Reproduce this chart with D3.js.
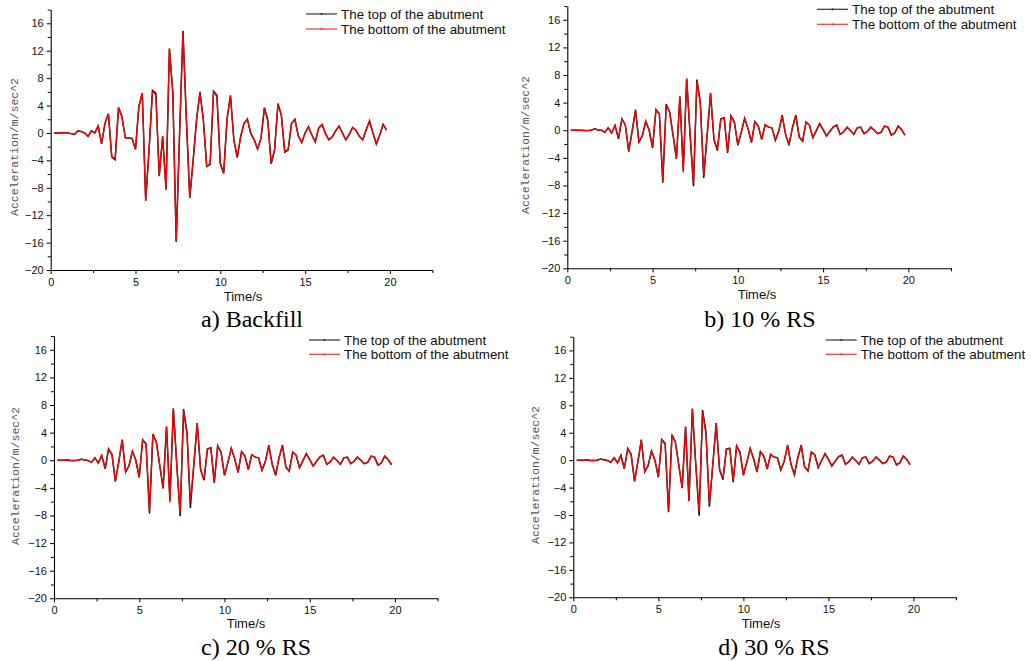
<!DOCTYPE html>
<html><head><meta charset="utf-8">
<script src="https://cdn.jsdelivr.net/npm/d3@7"></script>
<style>body{margin:0;background:#fff} svg{display:block}</style>
</head><body>
<svg id="chart" width="1031" height="661"></svg>
<script>
// ---------- data ----------
const time = [0.2,0.4,0.6,0.8,1.0,1.2,1.4,1.6,1.8,2.0,
  2.2,2.4,2.6,2.8,3.0,3.2,3.4,3.6,3.8,4.0,
  4.2,4.4,4.6,4.8,5.0,5.2,5.4,5.6,5.8,6.0,
  6.2,6.4,6.6,6.8,7.0,7.2,7.4,7.6,7.8,8.0,
  8.2,8.4,8.6,8.8,9.0,9.2,9.4,9.6,9.8,10.0,
  10.2,10.4,10.6,10.8,11.0,11.2,11.4,11.6,11.8,12.0,
  12.2,12.4,12.6,12.8,13.0,13.2,13.4,13.6,13.8,14.0,
  14.2,14.4,14.6,14.8,15.0,15.2,15.4,15.6,15.8,16.0,
  16.2,16.4,16.6,16.8,17.0,17.2,17.4,17.6,17.8,18.0,
  18.2,18.4,18.6,18.8,19.0,19.2,19.4,19.6,19.8];

const xTicks = [0,5,10,15,20];
const xMinorTicks = [2.5,7.5,12.5,17.5,22.5];
const yTicks = [-20,-16,-12,-8,-4,0,4,8,12,16];
const yMinorTicks = [-18,-14,-10,-6,-2,2,6,10,14,18];
const seriesNames = ["The top of the abutment","The bottom of the abutment"];
const captions = ["a) Backfill","b) 10 % RS","c) 20 % RS","d) 30 % RS"];
const xLabel = "Time/s";
const yLabel = "Acceleration/m/sec^2";

// a) Backfill
const topA = [0,0,0,0.05,0,-0.1,-0.2,0.3,0.2,0,
  -0.5,0.3,0,1.0,-1.6,1.4,2.8,-3.5,-3.9,3.7,
  2.4,-0.7,-0.75,-0.8,-2.4,3.9,5.8,-9.9,-2.5,6.2,
  5.8,-6.3,-0.5,-8.3,12.3,5.8,-15.9,0,14.9,2,
  -9.5,-4,1.9,6.0,1.9,-4.9,-4.6,6.1,5.5,-4.5,
  -5.9,2.1,5.5,-1.0,-3.6,-0.55,1.4,2.0,-0.1,-1.0,
  -2.35,-0.8,3.7,1.9,-4.5,-2.5,4.3,2.6,-2.8,-2.5,
  1.4,2.0,-0.45,-1.4,0,0.9,-0.3,-1.3,0.7,1.25,
  -0.1,-1.0,-0.55,0.3,1.0,0,-1.0,-0.2,0.8,0.4,
  -0.5,-1.0,0.45,1.75,0,-1.6,-0.3,1.25,0.4];
const bottomA = [0,0,0,0.05,0,-0.1,-0.2,0.3,0.2,0,
  -0.5,0.3,0,1.0,-1.6,1.4,2.8,-3.4,-3.8,3.7,
  2.3,-0.7,-0.75,-0.8,-2.4,3.9,5.8,-9.8,-2.5,6.0,
  5.6,-6.2,-0.5,-8.2,12.3,6.0,-15.8,0,14.8,2,
  -9.4,-4,1.9,5.9,1.9,-4.9,-4.5,6.0,5.3,-4.4,
  -5.8,2.1,5.4,-1.0,-3.5,-0.55,1.4,1.9,-0.1,-1.0,
  -2.3,-0.8,3.6,1.7,-4.4,-2.4,4.2,2.5,-2.7,-2.4,
  1.4,1.9,-0.45,-1.4,0,0.9,-0.3,-1.3,0.7,1.2,
  -0.1,-1.0,-0.55,0.3,1.0,0,-1.0,-0.2,0.8,0.4,
  -0.5,-1.0,0.45,1.7,0,-1.6,-0.3,1.2,0.4];

// b) 10 % RS
const topB = [0,0,0,0,-0.05,-0.05,0,0.2,0.05,0,
  -0.3,0.35,-0.4,0.7,-1.25,1.65,0.8,-3.1,-0.15,3.0,
  -1.7,-0.8,1.3,0,-2.55,3.0,2.4,-7.6,3.8,2.65,
  -0.7,-4.15,4.9,-5.8,7.45,-0.6,-8.1,7.35,4.05,-6.9,
  -0.7,5.4,-1.35,-2.95,1.65,1.8,-3.3,2.1,1.15,-2.2,
  -0.3,1.75,0.2,-1.8,1.25,0.6,-1.35,0.8,0.45,0.35,
  -1.45,-0.15,2.2,-0.6,-2.15,0.35,2.2,-1.0,-1.6,1.2,
  0.75,-1.1,-0.05,0.95,0.1,-0.85,-0.15,0.5,0.75,-0.6,
  -0.25,0.45,-0.05,-0.6,0.35,0.45,-0.5,-0.15,0.45,0,
  -0.5,-0.3,0.6,0.45,-0.7,-0.4,0.6,0.1,-0.7];
const bottomB = [0,0,0,0,-0.05,-0.05,0,0.2,0.05,0,
  -0.3,0.35,-0.4,0.7,-1.2,1.6,0.8,-3.0,-0.15,2.9,
  -1.65,-0.8,1.3,0,-2.45,2.9,2.3,-7.3,3.7,2.6,
  -0.6,-4.0,4.9,-6.1,7.5,-0.6,-7.6,7.1,3.8,-6.5,
  -0.7,5.3,-1.3,-2.75,1.6,1.75,-3.1,2.0,1.1,-2.1,
  -0.3,1.7,0.2,-1.7,1.2,0.6,-1.3,0.8,0.45,0.35,
  -1.4,-0.15,2.1,-0.6,-2.0,0.35,2.1,-0.95,-1.5,1.15,
  0.75,-1.05,-0.05,0.9,0.1,-0.8,-0.15,0.5,0.7,-0.6,
  -0.25,0.45,-0.05,-0.55,0.35,0.45,-0.5,-0.15,0.45,0,
  -0.5,-0.3,0.6,0.45,-0.65,-0.4,0.6,0.1,-0.7];

// c) 20 % RS
const topC = [0,0,0,0.05,-0.05,-0.05,0,0.15,0.05,-0.05,
  -0.3,0.35,-0.4,0.7,-1.25,1.65,0.85,-3.1,-0.2,3.0,
  -1.7,-0.8,1.3,0,-2.5,3.0,2.4,-7.7,3.8,2.7,
  -0.7,-4.1,4.9,-5.8,7.5,-0.6,-8.1,7.4,4.1,-6.9,
  -0.7,5.4,-1.4,-2.9,1.65,1.8,-3.3,2.1,1.15,-2.2,
  -0.3,1.75,0.2,-1.8,1.25,0.6,-1.35,0.8,0.45,0.35,
  -1.45,-0.15,2.2,-0.6,-2.2,0.35,2.2,-1.0,-1.6,1.2,
  0.75,-1.1,-0.05,0.95,0.1,-0.85,-0.15,0.5,0.75,-0.6,
  -0.25,0.45,-0.05,-0.6,0.35,0.45,-0.5,-0.15,0.45,0,
  -0.5,-0.3,0.6,0.45,-0.7,-0.4,0.6,0.1,-0.65];
const bottomC = [0,0,0,0.05,-0.05,-0.05,0,0.15,0.05,-0.05,
  -0.3,0.35,-0.4,0.7,-1.2,1.6,0.8,-3.0,-0.2,2.9,
  -1.65,-0.8,1.3,0,-2.4,2.9,2.3,-7.3,3.7,2.6,
  -0.6,-4.0,4.9,-6.1,7.5,-0.6,-7.6,7.1,3.8,-6.1,
  -0.7,5.3,-1.3,-2.7,1.6,1.75,-3.1,2.0,1.1,-2.1,
  -0.3,1.7,0.2,-1.7,1.2,0.6,-1.3,0.8,0.45,0.35,
  -1.4,-0.15,2.1,-0.6,-2.0,0.35,2.1,-0.95,-1.5,1.15,
  0.75,-1.05,-0.05,0.9,0.1,-0.8,-0.15,0.5,0.7,-0.6,
  -0.25,0.45,-0.05,-0.55,0.35,0.45,-0.5,-0.15,0.45,0,
  -0.5,-0.3,0.6,0.45,-0.65,-0.4,0.6,0.1,-0.65];

// d) 30 % RS
const topD = [0,0,0,0.05,-0.05,-0.05,0,0.15,0.05,-0.05,
  -0.3,0.35,-0.4,0.7,-1.25,1.7,0.85,-3.1,-0.2,3.0,
  -1.7,-0.8,1.35,0,-2.5,3.0,2.45,-7.6,3.7,2.7,
  -0.7,-4.1,4.9,-5.9,7.5,-0.6,-8.1,7.3,4.1,-6.8,
  -0.7,5.4,-1.4,-2.85,1.6,1.75,-3.2,2.1,1.2,-2.2,
  -0.3,1.7,0.2,-1.75,1.25,0.6,-1.3,0.85,0.45,0.35,
  -1.45,-0.15,2.2,-0.6,-2.15,0.35,2.2,-1.0,-1.6,1.2,
  0.75,-1.1,-0.05,0.95,0.1,-0.85,-0.15,0.5,0.75,-0.6,
  -0.25,0.45,-0.05,-0.6,0.35,0.45,-0.5,-0.15,0.45,0,
  -0.5,-0.3,0.6,0.45,-0.7,-0.4,0.6,0.1,-0.65];
const bottomD = [0,0,0,0.05,-0.05,-0.05,0,0.15,0.05,-0.05,
  -0.3,0.35,-0.4,0.7,-1.2,1.6,0.8,-3.0,-0.2,2.9,
  -1.65,-0.8,1.3,0,-2.4,2.9,2.3,-7.3,3.6,2.6,
  -0.6,-4.0,4.8,-6.0,7.5,-0.6,-7.6,7.0,3.8,-6.3,
  -0.7,5.3,-1.3,-2.7,1.55,1.7,-3.0,2.0,1.1,-2.1,
  -0.3,1.65,0.2,-1.7,1.2,0.6,-1.25,0.8,0.45,0.35,
  -1.4,-0.15,2.1,-0.6,-2.0,0.35,2.1,-0.95,-1.5,1.15,
  0.75,-1.05,-0.05,0.9,0.1,-0.8,-0.15,0.5,0.7,-0.6,
  -0.25,0.45,-0.05,-0.55,0.35,0.45,-0.5,-0.15,0.45,0,
  -0.5,-0.3,0.6,0.45,-0.65,-0.4,0.6,0.1,-0.65];

// ---------- layout (positions only) ----------
const panels = [
  {top: topA, bottom: bottomA, caption: captions[0], x0: 50.7, x1: 432.3, y0: 9.6, y1: 270,
   legX: 306, legY: 14, legGap: 15, ylabX: 14, ylabY: 147, capX: 252, capY: 327, timeX: 243, timeY: 300.5},
  {top: topB, bottom: bottomB, caption: captions[1], x0: 567.3, x1: 951, y0: 6, y1: 268.3,
   legX: 817, legY: 9.3, legGap: 15, ylabX: 525, ylabY: 145, capX: 760, capY: 327, timeX: 757, timeY: 298.5},
  {top: topC, bottom: bottomC, caption: captions[2], x0: 54, x1: 437.6, y0: 336, y1: 598.3,
   legX: 309, legY: 340, legGap: 14.3, ylabX: 15, ylabY: 476, capX: 256, capY: 655, timeX: 246, timeY: 628},
  {top: topD, bottom: bottomD, caption: captions[3], x0: 573.3, x1: 956, y0: 336.7, y1: 597.3,
   legX: 825.7, legY: 340, legGap: 14.3, ylabX: 535, ylabY: 475, capX: 774, capY: 655, timeX: 761, timeY: 627.5}
];

const colors = ["#111111", "#ff0000"];
const legendColors = ["#333333", "#ff3030"];

const svg = d3.select("#chart");

panels.forEach(p => {
  const x = d3.scaleLinear().domain([0, 22.5]).range([p.x0, p.x1]);
  const y = d3.scaleLinear().domain([-20, 18]).range([p.y1, p.y0]);
  const g = svg.append("g");

  // minor ticks
  g.append("g").attr("transform", `translate(0,${p.y1})`)
    .call(d3.axisBottom(x).tickValues(xMinorTicks).tickSize(3).tickSizeOuter(0).tickFormat(""))
    .call(s => s.select(".domain").remove());
  g.append("g").attr("transform", `translate(${p.x0},0)`)
    .call(d3.axisLeft(y).tickValues(yMinorTicks).tickSize(3).tickSizeOuter(0).tickFormat(""))
    .call(s => s.select(".domain").remove());

  // major axes
  const gx = g.append("g").attr("transform", `translate(0,${p.y1})`)
    .call(d3.axisBottom(x).tickValues(xTicks).tickSize(4).tickSizeOuter(0).tickPadding(3.7));
  const gy = g.append("g").attr("transform", `translate(${p.x0},0)`)
    .call(d3.axisLeft(y).tickValues(yTicks).tickSize(4).tickSizeOuter(0).tickPadding(3));
  [gx, gy].forEach(a => {
    a.attr("font-family", "'Liberation Sans', Arial, sans-serif").attr("font-size", 11);
    a.selectAll("text").attr("fill", "#111");
    a.select(".domain").attr("stroke", "#000").attr("stroke-width", 1.1);
  });
  g.selectAll(".tick line").attr("stroke", "#000");

  // lines
  const line = d3.line().x((d, i) => x(time[i])).y(d => y(d));
  [p.top, p.bottom].forEach((s, k) => {
    g.append("path").datum(s)
      .attr("fill", "none")
      .attr("stroke", colors[k])
      .attr("stroke-width", k === 0 ? 1.5 : 1.3)
      .attr("stroke-linejoin", "miter")
      .attr("d", line);
  });

  // axis labels
  g.append("text")
    .attr("x", p.timeX).attr("y", p.timeY)
    .attr("text-anchor", "middle")
    .attr("font-family", "'Liberation Sans', Arial, sans-serif")
    .attr("font-size", 13).attr("fill", "#111")
    .text(xLabel);
  g.append("text")
    .attr("transform", `translate(${p.ylabX},${p.ylabY}) rotate(-90)`)
    .attr("text-anchor", "middle")
    .attr("dominant-baseline", "central")
    .attr("font-family", "'Liberation Mono', 'DejaVu Sans Mono', monospace")
    .attr("font-size", 11.5).attr("fill", "#555")
    .text(yLabel);

  // legend
  seriesNames.forEach((name, k) => {
    const ly = p.legY + k * p.legGap;
    g.append("line")
      .attr("x1", p.legX).attr("x2", p.legX + 31)
      .attr("y1", ly).attr("y2", ly)
      .attr("stroke", legendColors[k]).attr("stroke-width", 1.2);
    g.append("circle")
      .attr("cx", p.legX + 15.5).attr("cy", ly).attr("r", 1.1)
      .attr("fill", legendColors[k]);
    g.append("text")
      .attr("x", p.legX + 35).attr("y", ly)
      .attr("dy", "0.35em")
      .attr("font-family", "'Liberation Sans', Arial, sans-serif")
      .attr("font-size", 13.4).attr("fill", "#111")
      .text(name);
  });

  // caption
  g.append("text")
    .attr("x", p.capX).attr("y", p.capY)
    .attr("text-anchor", "middle")
    .attr("font-family", "'Liberation Serif', 'Times New Roman', serif")
    .attr("font-size", 24).attr("fill", "#000")
    .text(p.caption);
});
</script>
</body></html>
